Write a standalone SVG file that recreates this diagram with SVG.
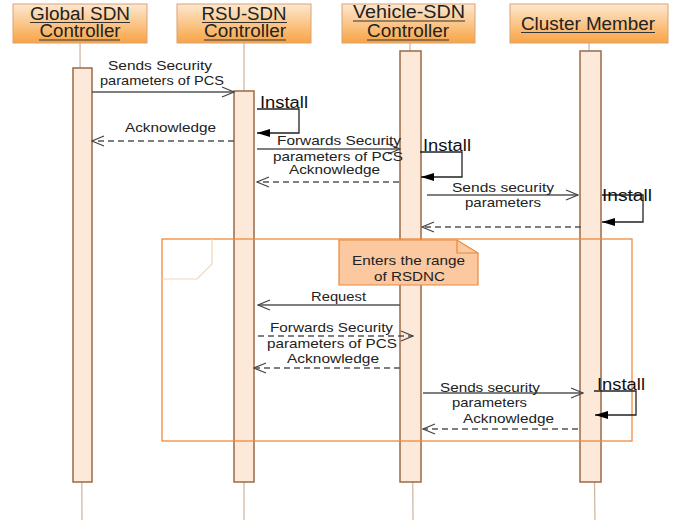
<svg xmlns="http://www.w3.org/2000/svg" width="678" height="523" viewBox="0 0 678 523">
<defs>
<linearGradient id="hdr" x1="0" y1="0" x2="0" y2="1">
<stop offset="0" stop-color="#fde8d0"/>
<stop offset="1" stop-color="#f8a444"/>
</linearGradient>
<marker id="open" markerUnits="userSpaceOnUse" markerWidth="14" markerHeight="12" refX="13" refY="6" orient="auto">
<path d="M1,1 L13,6 L1,11" fill="none" stroke="#444" stroke-width="1.2"/>
</marker>
<marker id="fill" markerUnits="userSpaceOnUse" markerWidth="14" markerHeight="10" refX="13" refY="5" orient="auto">
<path d="M0,1 L13,5 L0,9 Z" fill="#000"/>
</marker>
<style>
.hdr{fill:url(#hdr);stroke:#d9a274;stroke-width:1}
.ht{font-family:"Liberation Sans",Arial,sans-serif;font-size:18px;fill:#222;text-anchor:middle}
.ul{stroke:#333;stroke-width:1}
.life{stroke:#cdb29c;stroke-width:1.2}
.act{fill:#fde9da;stroke:#9b6a45;stroke-width:1.5}
.msg{stroke:#555;stroke-width:1.4;fill:none;marker-end:url(#open)}
.dash{stroke-dasharray:6 4}
.self{stroke:#222;stroke-width:1.3;fill:none;marker-end:url(#fill)}
.t{font-family:"Liberation Sans",Arial,sans-serif;font-size:13px;fill:#222;text-anchor:middle}
.inst{font-family:"Liberation Sans",Arial,sans-serif;font-size:16px;fill:#111}
</style>
</defs>

<g id="lifelines">
<line class="life" x1="80" y1="43" x2="82" y2="520"/>
<line class="life" x1="244" y1="43" x2="244" y2="520"/>
<line class="life" x1="410" y1="43" x2="413" y2="520"/>
<line class="life" x1="589" y1="43" x2="595" y2="520"/>
</g>

<g id="global-sdn">
<rect class="hdr" x="13" y="4" width="134" height="39"/>
<text class="ht" x="80" y="20" textLength="100" lengthAdjust="spacingAndGlyphs">Global SDN</text>
<line class="ul" x1="30" y1="22.5" x2="130" y2="22.5"/>
<text class="ht" x="80" y="37" textLength="81" lengthAdjust="spacingAndGlyphs">Controller</text>
<line class="ul" x1="39" y1="40" x2="120" y2="40"/>
<rect class="act" x="73" y="68" width="19" height="414"/>
</g>

<g id="rsu-sdn">
<rect class="hdr" x="177" y="4" width="134" height="39"/>
<text class="ht" x="244" y="20" textLength="85" lengthAdjust="spacingAndGlyphs">RSU-SDN</text>
<line class="ul" x1="202" y1="22.5" x2="287" y2="22.5"/>
<text class="ht" x="245" y="37" textLength="82" lengthAdjust="spacingAndGlyphs">Controller</text>
<line class="ul" x1="204" y1="40" x2="286" y2="40"/>
<rect class="act" x="234" y="91" width="20" height="391"/>
</g>

<g id="vehicle-sdn">
<rect class="hdr" x="342" y="4" width="133" height="39"/>
<text class="ht" x="409" y="18" textLength="112" lengthAdjust="spacingAndGlyphs">Vehicle-SDN</text>
<line class="ul" x1="353" y1="21" x2="465" y2="21"/>
<text class="ht" x="408" y="37" textLength="82" lengthAdjust="spacingAndGlyphs">Controller</text>
<line class="ul" x1="367" y1="40" x2="449" y2="40"/>
<rect class="act" x="400" y="51" width="21" height="431"/>
</g>

<g id="cluster-member">
<rect class="hdr" x="510" y="4" width="158" height="39"/>
<text class="ht" x="588" y="30" textLength="134" lengthAdjust="spacingAndGlyphs">Cluster Member</text>
<line class="ul" x1="521" y1="32.5" x2="655" y2="32.5"/>
<rect class="act" x="580" y="51" width="21" height="431"/>
</g>

<g id="frame">
<rect x="162" y="239" width="470" height="202" fill="none" stroke="#ee8a3c" stroke-width="1.3"/>
<path d="M162,279 H197 L212,264 V239" fill="none" stroke="#fbd4b0" stroke-width="1.2"/>
</g>

<g id="note">
<path d="M339,240 H457 L478,253 V285 H339 Z" fill="#fbc8a0" stroke="#e8883a" stroke-width="1.2"/>
<path d="M457,240 V253 H478" fill="none" stroke="#e8883a" stroke-width="1.2"/>
<text class="t" x="408.5" y="265" textLength="113" lengthAdjust="spacingAndGlyphs">Enters the range</text>
<text class="t" x="409.5" y="281" textLength="71" lengthAdjust="spacingAndGlyphs">of RSDNC</text>
</g>

<g id="connectors">
<line class="msg" x1="92" y1="92" x2="234" y2="92"/>
<path class="self" d="M257,109 H299 V133 H257"/>
<line class="msg dash" x1="234" y1="141" x2="92" y2="141"/>
<line class="msg" x1="257" y1="149" x2="400" y2="149"/>
<path class="self" d="M420,152 H462 V177 H421"/>
<line class="msg dash" x1="399" y1="182" x2="257" y2="182"/>
<line class="msg" x1="427" y1="195" x2="578" y2="195"/>
<path class="self" d="M602,195 H643 V222 H602"/>
<line class="msg dash" x1="581" y1="227" x2="422" y2="227"/>
<line class="msg" x1="400" y1="305" x2="258" y2="305"/>
<line class="msg dash" x1="258" y1="336" x2="413" y2="336"/>
<line class="msg dash" x1="400" y1="368" x2="254" y2="368"/>
<line class="msg" x1="423" y1="393" x2="583" y2="393"/>
<path class="self" d="M594,391 H636 V415 H595"/>
<line class="msg dash" x1="578" y1="429" x2="423" y2="429"/>
</g>

<g id="labels">
<text class="t" x="160" y="70" textLength="104" lengthAdjust="spacingAndGlyphs">Sends Security</text>
<text class="t" x="162" y="85" textLength="124" lengthAdjust="spacingAndGlyphs">parameters of PCS</text>
<text class="inst" x="260" y="108" textLength="48" lengthAdjust="spacingAndGlyphs">Install</text>
<text class="t" x="170.5" y="132" textLength="91" lengthAdjust="spacingAndGlyphs">Acknowledge</text>
<text class="t" x="339" y="145" textLength="124" lengthAdjust="spacingAndGlyphs">Forwards Security</text>
<text class="t" x="338" y="161" textLength="130" lengthAdjust="spacingAndGlyphs">parameters of PCS</text>
<text class="t" x="334.5" y="174" textLength="91" lengthAdjust="spacingAndGlyphs">Acknowledge</text>
<text class="inst" x="423" y="151" textLength="48" lengthAdjust="spacingAndGlyphs">Install</text>
<text class="t" x="503" y="192" textLength="102" lengthAdjust="spacingAndGlyphs">Sends security</text>
<text class="t" x="503" y="207" textLength="76" lengthAdjust="spacingAndGlyphs">parameters</text>
<text class="inst" x="602" y="201" textLength="50" lengthAdjust="spacingAndGlyphs">Install</text>
<text class="t" x="338.5" y="301" textLength="55" lengthAdjust="spacingAndGlyphs">Request</text>
<text class="t" x="331.5" y="332" textLength="123" lengthAdjust="spacingAndGlyphs">Forwards Security</text>
<text class="t" x="332" y="348" textLength="130" lengthAdjust="spacingAndGlyphs">parameters of PCS</text>
<text class="t" x="333" y="363" textLength="92" lengthAdjust="spacingAndGlyphs">Acknowledge</text>
<text class="t" x="490" y="392" textLength="100" lengthAdjust="spacingAndGlyphs">Sends security</text>
<text class="t" x="489.5" y="407" textLength="75" lengthAdjust="spacingAndGlyphs">parameters</text>
<text class="inst" x="597" y="390" textLength="48" lengthAdjust="spacingAndGlyphs">Install</text>
<text class="t" x="508.5" y="423" textLength="91" lengthAdjust="spacingAndGlyphs">Acknowledge</text>
</g>
</svg>
